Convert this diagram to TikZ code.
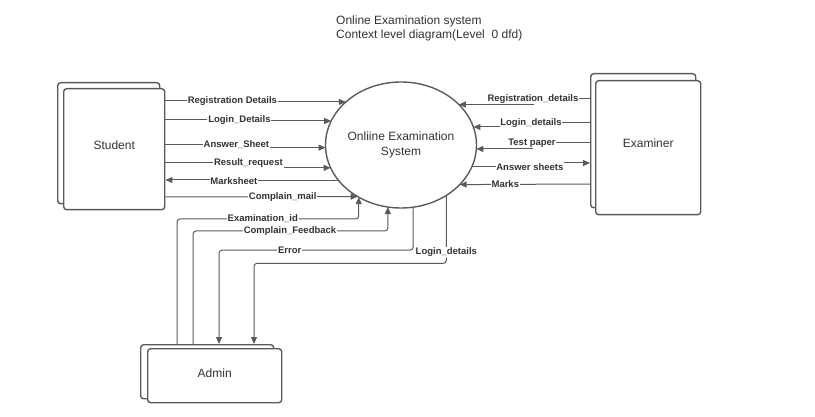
\documentclass[tikz,border=0pt]{standalone}
\usepackage{fontspec}
\setmainfont{Liberation Sans}
\usetikzlibrary{arrows.meta,shapes.geometric,calc}
\definecolor{ln}{HTML}{5A5A5A}
\definecolor{tx}{HTML}{333333}
\begin{document}
\begin{tikzpicture}[x=1pt,y=-1pt,
  flow/.style={draw=ln, line width=1pt, -{Triangle[length=7pt,width=6pt]}},
  lbl/.style={fill=white, inner sep=0.8pt, text=tx, font=\fontsize{9.5}{10}\bfseries\selectfont},
  entf/.style={draw=ln, line width=1.4pt, rounded corners=3pt, fill=white, text=tx,
    font=\fontsize{12}{14}\selectfont, inner sep=0pt, text depth=8pt, anchor=north west},
  entb/.style={draw=ln, line width=1.4pt, rounded corners=3pt, fill=white, inner sep=0pt, anchor=north west}]
\useasboundingbox (0,0) rectangle (815,417);

% title
\node[anchor=north west, align=left, text=tx, inner sep=0pt, font=\fontsize{12}{14}\selectfont] (title) at (336,15.5)
  {Online Examination system\\Context level diagram(Level~ 0 dfd)};

% entities
\node[entb, minimum width=102pt, minimum height=121pt] (studentb) at (57,82) {};
\node[entf, minimum width=101pt, minimum height=121pt] (student) at (63,88) {Student};
\node[entb, minimum width=105pt, minimum height=134pt] (examinerb) at (590,73) {};
\node[entf, minimum width=105pt, minimum height=134pt, text depth=10pt] (examiner) at (595,80) {Examiner};
\node[entb, minimum width=133pt, minimum height=54pt] (adminb) at (140,344) {};
\node[entf, minimum width=134pt, minimum height=54pt, text depth=6pt] (admin) at (147,348) {Admin};

% process
\node[ellipse, draw=ln, line width=1.4pt, minimum width=151pt, minimum height=126pt, inner sep=0pt, outer sep=0pt,
  align=center, text=tx, font=\fontsize{12}{14.5}\selectfont] (sys) at (401,145) {Onliine Examination\\System};

% student flows
\draw[flow] ($(student.north east)+(0,13)$) -- ++(67,0) node[lbl]{Registration Details} |- (sys.142.1);
\draw[flow] ($(student.north east)+(0,32)$) -- ++(74,0) node[lbl]{Login\_Details} |- (sys.161.9);
\draw[flow] ($(student.north east)+(0,57)$) -- ++(71,0) node[lbl]{Answer\_Sheet} |- (sys.182.3);
\draw[flow] ($(student.north east)+(0,75)$) -- ++(83,0) node[lbl]{Result\_request} |- (sys.198.1);
\draw[flow] (sys.210.1) -- ++(-105,0) node[lbl]{Marksheet} |- ($(student.north east)+(0,92)$);
\draw[flow] ($(student.north east)+(0,109)$) -- node[lbl,pos=0.61]{Complain\_mail} (sys.230.7);

% examiner flows
\draw[flow] ($(examinerb.north west)+(0,26)$) -- ++(-57,0) node[lbl]{Registration\_details} |- (sys.35.6);
\draw[flow] ($(examinerb.north west)+(0,50)$) -- ++(-59,0) node[lbl]{Login\_details} |- (sys.14.0);
\draw[flow] ($(examinerb.north west)+(0,70)$) -- ++(-58,0) node[lbl]{Test paper} |- (sys.357.7);
\draw[flow] (sys.343.6) -- ++(58,0) node[lbl]{Answer sheets} |- ($(examinerb.north west)+(0,90)$);
\draw[flow] ($(examinerb.north west)+(0,111)$) -- node[lbl,pos=0.65]{Marks} (sys.326.7);

% admin flows
\draw[flow, rounded corners=3pt] ($(adminb.north west)+(37,0)$) -- ++(0,-125)
  -| node[lbl,pos=0.236]{Examination\_id} (sys.231.3);
\draw[flow, rounded corners=3pt] ($(adminb.north west)+(53,0)$) -- ++(0,-113)
  -| node[lbl,pos=0.249]{Complain\_Feedback} (sys.258.2);
\draw[flow, rounded corners=3pt] (sys.281.8) -- ++(0,43)
  -| node[lbl,pos=0.318]{Error} ($(adminb.north west)+(79,0)$);
\draw[flow, rounded corners=3pt] (sys.312.6) -- node[lbl,pos=0.84]{Login\_details} ++(0,68)
  -| ($(adminb.north west)+(114,0)$);
\end{tikzpicture}
\end{document}
